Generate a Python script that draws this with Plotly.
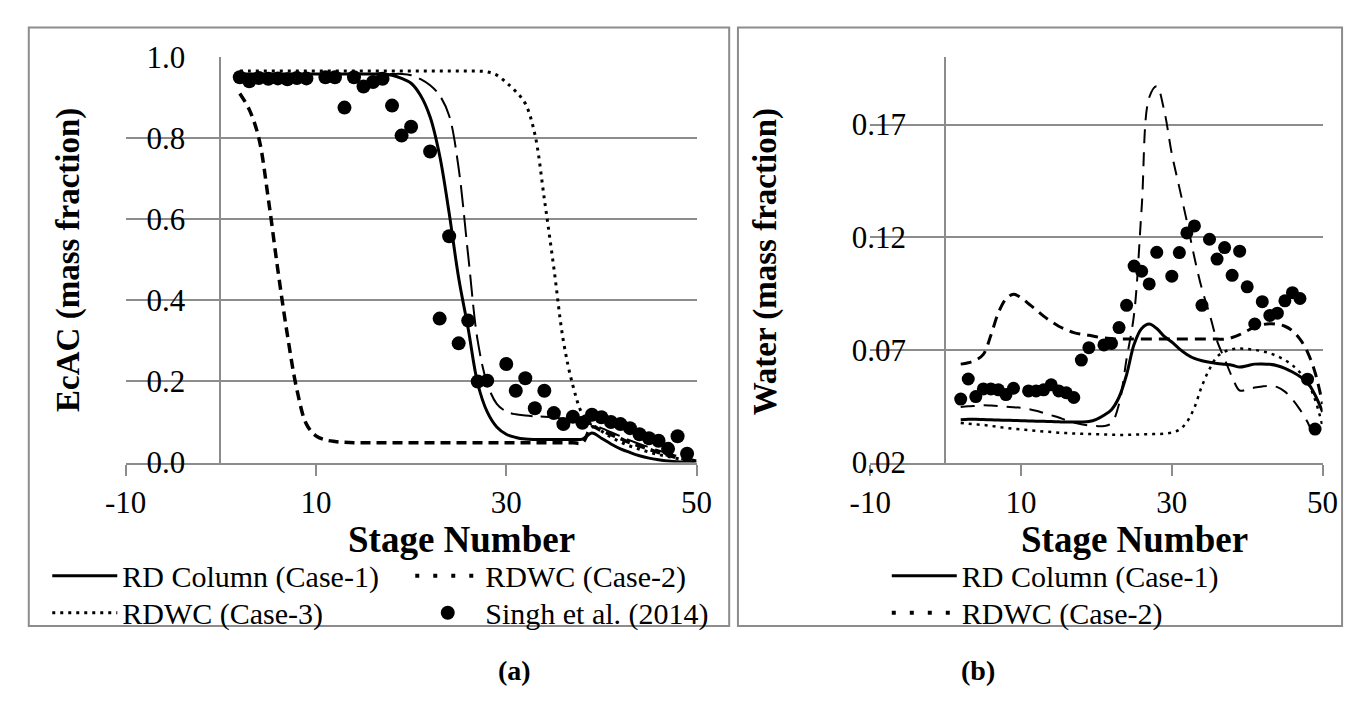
import plotly.graph_objects as go

W, H = 1360, 702

# ---------------- data ----------------
stages = [2, 3, 4, 5, 6, 7, 8, 9, 10, 11, 12, 13, 14, 15, 16, 17, 18, 19, 20, 21,
          22, 23, 24, 25, 26, 27, 28, 29, 30, 31, 32, 33, 34, 35, 36, 37, 38, 39,
          40, 41, 42, 43, 44, 45, 46, 47, 48, 49, 50]
stages_to49 = stages[:-1]

# (a) EcAC mass fraction
ecac_case1 = [0.958, 0.958, 0.958, 0.958, 0.958, 0.958, 0.958, 0.958, 0.958, 0.958,
              0.958, 0.958, 0.958, 0.958, 0.958, 0.958, 0.955, 0.947, 0.935, 0.905,
              0.852, 0.757, 0.615, 0.455, 0.330, 0.195, 0.125, 0.088, 0.070, 0.062,
              0.058, 0.057, 0.057, 0.057, 0.057, 0.057, 0.058, 0.073, 0.060, 0.046,
              0.034, 0.025, 0.017, 0.011, 0.007, 0.004, 0.002, 0.001, 0.000]
ecac_case2 = [0.910, 0.870, 0.800, 0.650, 0.475, 0.315, 0.180, 0.095, 0.066, 0.056,
              0.052, 0.050, 0.049, 0.049, 0.049, 0.049, 0.049, 0.049, 0.049, 0.049,
              0.049, 0.049, 0.049, 0.049, 0.049, 0.049, 0.049, 0.049, 0.049, 0.049,
              0.049, 0.049, 0.049, 0.049, 0.049, 0.049, 0.049, 0.088, 0.079, 0.069,
              0.059, 0.049, 0.041, 0.033, 0.025, 0.018, 0.012, 0.007, 0.003]
ecac_case3 = [0.965, 0.965, 0.965, 0.965, 0.965, 0.965, 0.965, 0.965, 0.965, 0.965,
              0.965, 0.965, 0.965, 0.965, 0.965, 0.965, 0.965, 0.965, 0.965, 0.965,
              0.965, 0.965, 0.965, 0.965, 0.965, 0.965, 0.963, 0.955, 0.937, 0.915,
              0.885, 0.810, 0.650, 0.480, 0.300, 0.190, 0.120, 0.095, 0.078, 0.063,
              0.051, 0.041, 0.033, 0.026, 0.020, 0.015, 0.010, 0.006, 0.003]
ecac_case4 = [0.958, 0.958, 0.958, 0.958, 0.958, 0.958, 0.958, 0.958, 0.958, 0.958,
              0.958, 0.958, 0.958, 0.958, 0.958, 0.958, 0.958, 0.958, 0.955, 0.945,
              0.930, 0.905, 0.855, 0.725, 0.510, 0.300, 0.195, 0.145, 0.126, 0.119,
              0.116, 0.114, 0.113, 0.111, 0.108, 0.105, 0.100, 0.094, 0.085, 0.075,
              0.065, 0.055, 0.046, 0.038, 0.030, 0.023, 0.016, 0.010, 0.005]
singh_x_a = [2, 3, 4, 5, 6, 7, 8, 9, 11, 12, 13, 14, 15, 16, 17, 18, 19, 20, 22, 23,
             24, 25, 26, 27, 28, 30, 31, 32, 33, 34, 35, 36, 37, 38, 39, 40, 41, 42,
             43, 44, 45, 46, 47, 48, 49]
singh_ecac = [0.950, 0.940, 0.948, 0.946, 0.947, 0.945, 0.948, 0.947, 0.950, 0.950,
              0.875, 0.950, 0.927, 0.938, 0.946, 0.880, 0.806, 0.828, 0.767, 0.355,
              0.558, 0.294, 0.350, 0.200, 0.202, 0.243, 0.177, 0.208, 0.134, 0.177,
              0.122, 0.095, 0.113, 0.098, 0.118, 0.112, 0.100, 0.095, 0.085, 0.070,
              0.060, 0.054, 0.034, 0.065, 0.022]

# (b) Water mass fraction
water_case1 = [0.0390, 0.0392, 0.0392, 0.0391, 0.0390, 0.0389, 0.0388, 0.0387, 0.0386, 0.0385,
               0.0384, 0.0383, 0.0382, 0.0381, 0.0380, 0.0380, 0.0380, 0.0382, 0.0392, 0.0410,
               0.0435, 0.0490, 0.0590, 0.0725, 0.0795, 0.0815, 0.0795, 0.0760, 0.0735, 0.0705,
               0.0680, 0.0662, 0.0652, 0.0645, 0.0640, 0.0636, 0.0632, 0.0624, 0.0630, 0.0637,
               0.0638, 0.0636, 0.0630, 0.0618, 0.0602, 0.0582, 0.0555, 0.0500, 0.0425]
water_case2 = [0.0637, 0.0643, 0.0655, 0.0680, 0.0765, 0.0865, 0.0926, 0.0947, 0.0932, 0.0905,
               0.0878, 0.0850, 0.0826, 0.0805, 0.0790, 0.0777, 0.0770, 0.0765, 0.0758, 0.0753,
               0.0750, 0.0748, 0.0748, 0.0748, 0.0748, 0.0748, 0.0748, 0.0748, 0.0748, 0.0748,
               0.0748, 0.0748, 0.0748, 0.0748, 0.0748, 0.0748, 0.0755, 0.0768, 0.0785, 0.0802,
               0.0812, 0.0816, 0.0814, 0.0805, 0.0785, 0.0748, 0.0690, 0.0600, 0.0460]
water_case3 = [0.0376, 0.0373, 0.0370, 0.0367, 0.0363, 0.0358, 0.0354, 0.0350, 0.0347, 0.0344,
               0.0341, 0.0338, 0.0336, 0.0333, 0.0331, 0.0329, 0.0328, 0.0327, 0.0326, 0.0325,
               0.0324, 0.0323, 0.0323, 0.0324, 0.0325, 0.0326, 0.0327, 0.0328, 0.0333, 0.0346,
               0.0380, 0.0445, 0.0540, 0.0615, 0.0670, 0.0692, 0.0703, 0.0706, 0.0704, 0.0700,
               0.0694, 0.0685, 0.0672, 0.0655, 0.0632, 0.0600, 0.0555, 0.0480, 0.0360]
water_case4 = [0.0447, 0.0450, 0.0452, 0.0454, 0.0453, 0.0451, 0.0448, 0.0446, 0.0443, 0.0438,
               0.0430, 0.0420, 0.0410, 0.0400, 0.0388, 0.0378, 0.0370, 0.0365, 0.0362, 0.0362,
               0.0375, 0.0460, 0.0660, 0.0860, 0.1330, 0.1820, 0.1870, 0.1760, 0.1570, 0.1420,
               0.1270, 0.1110, 0.0970, 0.0860, 0.0740, 0.0660, 0.0580, 0.0520, 0.0525, 0.0533,
               0.0538, 0.0540, 0.0535, 0.0515, 0.0480, 0.0435, 0.0380, 0.0300]
singh_x_b = [2, 3, 4, 5, 6, 7, 8, 9, 11, 12, 13, 14, 15, 16, 17, 18, 19, 21, 22, 23,
             24, 25, 26, 27, 28, 30, 31, 32, 33, 34, 35, 36, 37, 38, 39, 40, 41, 42,
             43, 44, 45, 46, 47, 48, 49]
singh_water = [0.0482, 0.0571, 0.0493, 0.0527, 0.0527, 0.0523, 0.0502, 0.0530, 0.0518, 0.0518,
               0.0523, 0.0545, 0.0518, 0.0510, 0.0489, 0.0655, 0.0710, 0.0722, 0.0729, 0.0799,
               0.0898, 0.1072, 0.1049, 0.0993, 0.1133, 0.1027, 0.1132, 0.1219, 0.1250, 0.0898,
               0.1191, 0.1103, 0.1154, 0.1031, 0.1138, 0.0980, 0.0815, 0.0914, 0.0853, 0.0863,
               0.0918, 0.0954, 0.0928, 0.0570, 0.0349]

x_ticks = [-10, 10, 30, 50]
x_ticktext = ["-10", "10", "30", "50"]
ecac_ticks = [0.0, 0.2, 0.4, 0.6, 0.8, 1.0]
water_ticks = [0.02, 0.07, 0.12, 0.17]

name_c1 = "RD Column (Case-1)"
name_c2 = "RDWC (Case-2)"
name_c3 = "RDWC (Case-3)"
name_c4 = "RDWC (Case-4)"
name_exp = "Singh et al. (2014)"

# ---------------- styling ----------------
FONT = "Liberation Serif"
GRID = "#8c8c8c"
TICK_SIZE = 31


def fx(px):
    return px / W


def fy(py):
    return 1 - py / H


fig = go.Figure()

# ---- panel (a)
fig.add_trace(go.Scatter(x=stages, y=ecac_case1, mode="lines", name=name_c1,
                         line=dict(color="black", width=3, shape="spline"),
                         xaxis="x", yaxis="y", legend="legend"))
fig.add_trace(go.Scatter(x=stages, y=ecac_case2, mode="lines", name=name_c2,
                         line=dict(color="black", width=3.5, dash="10px,6px", shape="spline"),
                         xaxis="x", yaxis="y", showlegend=False))
# legend key of Case-2 (Excel draws it as spaced square dots)
fig.add_trace(go.Scatter(x=[None], y=[None], mode="lines", name=name_c2,
                         line=dict(color="black", width=4, dash="4px,14px"),
                         xaxis="x", yaxis="y", legend="legend"))
fig.add_trace(go.Scatter(x=stages, y=ecac_case3, mode="lines", name=name_c3,
                         line=dict(color="black", width=3, dash="3px,5px", shape="spline"),
                         xaxis="x", yaxis="y", legend="legend2"))
fig.add_trace(go.Scatter(x=stages, y=ecac_case4, mode="lines", name=name_c4,
                         line=dict(color="black", width=2, dash="22px,8px", shape="spline"),
                         xaxis="x", yaxis="y", showlegend=False))
fig.add_trace(go.Scatter(x=singh_x_a, y=singh_ecac, mode="markers", name=name_exp,
                         marker=dict(color="black", size=14),
                         xaxis="x", yaxis="y", legend="legend2"))

# ---- panel (b)
fig.add_trace(go.Scatter(x=stages, y=water_case1, mode="lines", name=name_c1,
                         line=dict(color="black", width=3, shape="spline"),
                         xaxis="x2", yaxis="y2", legend="legend3"))
fig.add_trace(go.Scatter(x=stages, y=water_case2, mode="lines", name=name_c2,
                         line=dict(color="black", width=3, dash="11px,7px", shape="spline"),
                         xaxis="x2", yaxis="y2", showlegend=False))
fig.add_trace(go.Scatter(x=[None], y=[None], mode="lines", name=name_c2,
                         line=dict(color="black", width=4, dash="4px,14px"),
                         xaxis="x2", yaxis="y2", legend="legend4"))
fig.add_trace(go.Scatter(x=stages, y=water_case3, mode="lines", name=name_c3,
                         line=dict(color="black", width=2.5, dash="3px,5px", shape="spline"),
                         xaxis="x2", yaxis="y2", showlegend=False))
fig.add_trace(go.Scatter(x=stages_to49, y=water_case4, mode="lines", name=name_c4,
                         line=dict(color="black", width=2, dash="14px,9px", shape="spline"),
                         xaxis="x2", yaxis="y2", showlegend=False))
fig.add_trace(go.Scatter(x=singh_x_b, y=singh_water, mode="markers", name=name_exp,
                         marker=dict(color="black", size=13),
                         xaxis="x2", yaxis="y2", showlegend=False))

xcommon = dict(range=[-10, 50], tickvals=x_ticks, ticktext=x_ticktext, ticks="outside",
               ticklen=11, tickwidth=2, tickcolor=GRID, showline=True, linecolor=GRID,
               linewidth=2, showgrid=False, zeroline=False,
               tickfont=dict(family=FONT, size=TICK_SIZE, color="black"))
ycommon = dict(showline=True, linecolor=GRID, linewidth=2, showgrid=True, gridcolor=GRID,
               gridwidth=2, zeroline=False, ticks="", anchor="free",
               tickfont=dict(family=FONT, size=TICK_SIZE, color="black"))

legend_common = dict(bgcolor="rgba(0,0,0,0)", font=dict(family=FONT, size=30, color="black"),
                     itemwidth=65, traceorder="normal", xanchor="left", yanchor="middle",
                     orientation="h", entrywidth=283)


def ann(text, px, py, size, angle=0):
    return dict(text=text, xref="paper", yref="paper", x=fx(px), y=fy(py),
                xanchor="center", yanchor="middle", textangle=angle, showarrow=False,
                font=dict(family=FONT, size=size, color="black"))


fig.update_layout(
    width=W, height=H, margin=dict(l=0, r=0, t=0, b=0),
    paper_bgcolor="white", plot_bgcolor="white",
    font=dict(family=FONT, size=30, color="black"),
    xaxis=dict(domain=[fx(107.5), fx(694.5)], anchor="y", **xcommon),
    yaxis=dict(domain=[fy(469), fy(42)], range=[0, 1], tickvals=ecac_ticks, tickformat=".1f",
               position=fx(205), ticklabelstandoff=28, **ycommon),
    xaxis2=dict(domain=[fx(873), fx(1338)], anchor="y2", **xcommon),
    yaxis2=dict(domain=[fy(469), fy(42)], range=[0.02, 0.2], tickvals=water_ticks, tickformat=".2f",
                position=fx(950), ticklabelstandoff=32, **ycommon),
    legend=dict(x=fx(27), y=fy(588), **legend_common),
    legend2=dict(x=fx(27), y=fy(627), **legend_common),
    legend3=dict(x=fx(890), y=fy(588), **legend_common),
    legend4=dict(x=fx(890), y=fy(627), **legend_common),
    shapes=[
        dict(type="rect", xref="paper", yref="paper", x0=fx(8), x1=fx(728), y0=fy(641), y1=fy(11),
             line=dict(color=GRID, width=2), layer="below"),
        dict(type="rect", xref="paper", yref="paper", x0=fx(737), x1=fx(1358), y0=fy(641), y1=fy(11),
             line=dict(color=GRID, width=2), layer="below"),
    ],
    annotations=[
        ann("<b>EcAC (mass fraction)</b>", 49, 256, 33, -90),
        ann("<b>Water (mass fraction)</b>", 765, 258, 33, -90),
        ann("<b>Stage Number</b>", 453, 550, 37),
        ann("<b>Stage Number</b>", 1145, 550, 37),
        ann("<b>(a)</b>", 507, 688, 28),
        ann("<b>(b)</b>", 984, 688, 28),
    ],
)

fig.write_html("out.html")
